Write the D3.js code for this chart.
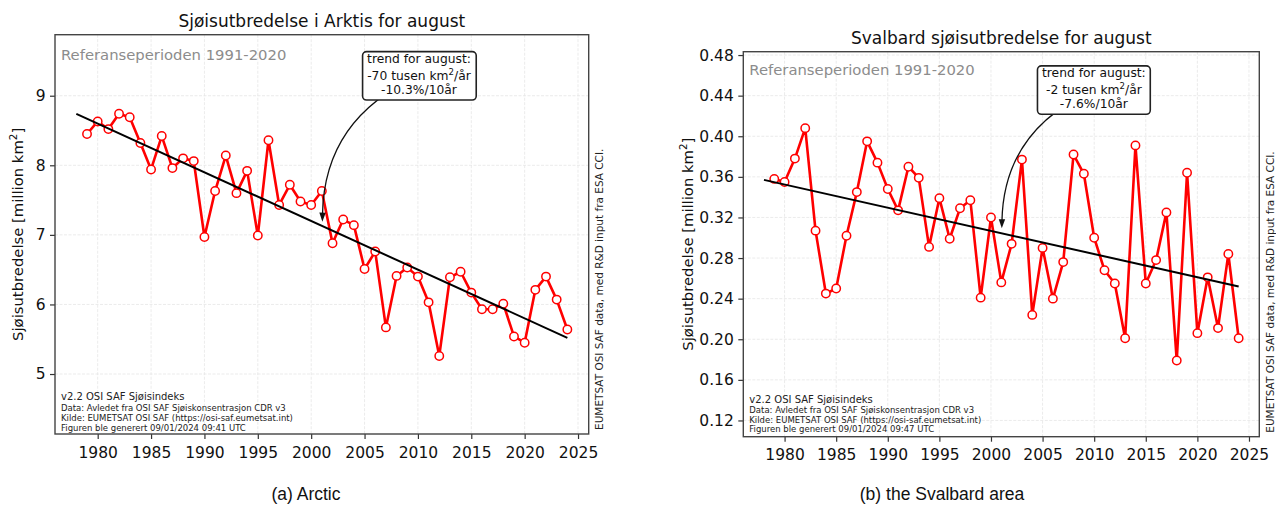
<!DOCTYPE html>
<html><head><meta charset="utf-8">
<script src="https://cdn.jsdelivr.net/npm/d3@7"></script>
<style>body{margin:0;background:#fff} svg{display:block}</style>
</head><body><svg id="c" width="1276" height="513"></svg>
<script>
// ---------- DATA ----------
const years = [1979,1980,1981,1982,1983,1984,1985,1986,1987,1988,1989,1990,1991,1992,1993,1994,1995,1996,1997,1998,1999,2000,2001,2002,2003,2004,2005,2006,2007,2008,2009,2010,2011,2012,2013,2014,2015,2016,2017,2018,2019,2020,2021,2022,2023,2024];
const arcticExtent = [8.45,8.63,8.52,8.74,8.69,8.32,7.94,8.42,7.96,8.10,8.06,6.97,7.63,8.14,7.60,7.92,6.99,8.36,7.43,7.72,7.48,7.43,7.63,6.88,7.22,7.14,6.51,6.76,5.67,6.41,6.53,6.40,6.03,5.26,6.39,6.47,6.17,5.93,5.93,6.01,5.54,5.45,6.21,6.40,6.07,5.64];
const svalbardExtent = [0.358,0.355,0.378,0.408,0.307,0.245,0.250,0.302,0.345,0.395,0.374,0.348,0.327,0.370,0.359,0.291,0.339,0.299,0.329,0.337,0.241,0.320,0.256,0.294,0.377,0.224,0.290,0.240,0.276,0.382,0.363,0.300,0.268,0.255,0.201,0.391,0.255,0.278,0.325,0.179,0.364,0.206,0.261,0.211,0.284,0.201];
const xTickValues = [1980,1985,1990,1995,2000,2005,2010,2015,2020,2025];
const arcticYTicks = [5,6,7,8,9];
const svalbardYTicks = [0.12,0.16,0.20,0.24,0.28,0.32,0.36,0.40,0.44,0.48];
const trendYears = [1978, 2024];
const arcticTrend = [8.74, 5.52];
const svalbardTrend = [0.357, 0.252];
const titles = ["Sjøisutbredelse i Arktis for august", "Svalbard sjøisutbredelse for august"];
const captions = ["(a) Arctic", "(b) the Svalbard area"];
const refText = "Referanseperioden 1991-2020";
const yLabelText = ["Sjøisutbredelse [million km", "2", "]"];
const sideText = "EUMETSAT OSI SAF data, med R&D input fra ESA CCI.";
const arcticTrendLines = [["trend for august:"], ["-70 tusen km", "2", "/år"], ["-10.3%/10år"]];
const svalbardTrendLines = [["trend for august:"], ["-2 tusen km", "2", "/år"], ["-7.6%/10år"]];
const footerArctic = ["v2.2 OSI SAF Sjøisindeks", "Data: Avledet fra OSI SAF Sjøiskonsentrasjon CDR v3", "Kilde: EUMETSAT OSI SAF (https://osi-saf.eumetsat.int)", "Figuren ble generert 09/01/2024 09:41 UTC"];
const footerSvalbard = ["v2.2 OSI SAF Sjøisindeks", "Data: Avledet fra OSI SAF Sjøiskonsentrasjon CDR v3", "Kilde: EUMETSAT OSI SAF (https://osi-saf.eumetsat.int)", "Figuren ble generert 09/01/2024 09:47 UTC"];

// ---------- DRAW ----------
const svg = d3.select("#c");
svg.append("rect").attr("width",1276).attr("height",513).attr("fill","#fff");
const FONT = "DejaVu Sans";

function richText(sel, parts, size) {
  sel.append("tspan").text(parts[0]);
  if (parts.length > 1) {
    sel.append("tspan").attr("dy", -size*0.4).attr("font-size", size*0.7).text(parts[1]);
    sel.append("tspan").attr("dy", size*0.4).text(parts[2]);
  }
}

function drawPanel(p) {
  const g = svg.append("g");
  const x = d3.scaleLinear().domain([1976, 2026]).range([p.left, p.right]);
  const y = d3.scaleLinear().domain(p.yDomain).range([p.bottom, p.top]);

  // grid
  g.append("g").selectAll("line").data(xTickValues).join("line")
    .attr("x1", d => x(d)).attr("x2", d => x(d)).attr("y1", p.top).attr("y2", p.bottom)
    .attr("stroke", "#e6e6e6").attr("stroke-width", 0.8).attr("stroke-dasharray", "3,1.5");
  g.append("g").selectAll("line").data(p.yTicks).join("line")
    .attr("y1", d => y(d)).attr("y2", d => y(d)).attr("x1", p.left).attr("x2", p.right)
    .attr("stroke", "#e6e6e6").attr("stroke-width", 0.8).attr("stroke-dasharray", "3,1.5");

  // axes
  const xa = g.append("g").attr("transform", `translate(0,${p.bottom})`)
    .call(d3.axisBottom(x).tickValues(xTickValues).tickFormat(d3.format("d")).tickSize(5).tickPadding(7.5));
  const ya = g.append("g").attr("transform", `translate(${p.left},0)`)
    .call(d3.axisLeft(y).tickValues(p.yTicks).tickFormat(p.fmt).tickSize(5).tickPadding(4.5));
  [xa, ya].forEach(a => {
    a.select(".domain").remove();
    a.attr("font-family", FONT).attr("font-size", 15.5);
    a.selectAll("line").attr("stroke", "#333").attr("stroke-width", 1.2);
    a.selectAll("text").attr("fill", "#111");
  });

  // frame
  g.append("rect").attr("x", p.left).attr("y", p.top).attr("width", p.right - p.left).attr("height", p.bottom - p.top)
    .attr("fill", "none").attr("stroke", "#444").attr("stroke-width", 1.4);

  // data line
  const line = d3.line().x(d => x(d[0])).y(d => y(d[1]));
  const pts = years.map((yr, i) => [yr, p.values[i]]);
  g.append("path").datum(pts).attr("d", line).attr("fill", "none")
    .attr("stroke", "#f00").attr("stroke-width", 2.6).attr("stroke-linejoin", "round");
  g.append("g").selectAll("circle").data(pts).join("circle")
    .attr("cx", d => x(d[0])).attr("cy", d => y(d[1])).attr("r", 4.2)
    .attr("fill", "#fff").attr("stroke", "#f00").attr("stroke-width", 1.5);

  // trend line
  const tpts = trendYears.map((yr, i) => [yr, p.trend[i]]);
  g.append("path").datum(tpts).attr("d", line).attr("fill", "none")
    .attr("stroke", "#000").attr("stroke-width", 2);

  // reference period text
  g.append("text").attr("x", p.left + 6).attr("y", p.top + p.refDy)
    .attr("font-family", FONT).attr("font-size", 14.8).attr("fill", "#8c8c8c").text(refText);

  // footer
  p.footer.forEach((t, i) => {
    g.append("text").attr("x", p.left + 6).attr("y", p.bottom + p.footerDy[i])
      .attr("font-family", FONT).attr("font-size", i === 0 ? 10 : 8.5).attr("fill", "#222").text(t);
  });

  // title
  g.append("text").attr("x", (p.left + p.right) / 2).attr("y", p.top - 8).attr("text-anchor", "middle")
    .attr("font-family", FONT).attr("font-size", 17).attr("fill", "#111").text(p.title);

  // y label
  const yl = g.append("text").attr("transform", `translate(${p.ylabelX},${(p.top + p.bottom) / 2}) rotate(-90)`)
    .attr("text-anchor", "middle").attr("font-family", FONT).attr("font-size", 14.8).attr("fill", "#111");
  richText(yl, yLabelText, 14.8);

  // side text
  g.append("text").attr("transform", `translate(${p.right + 14.5},${p.bottom - 4}) rotate(-90)`)
    .attr("font-family", FONT).attr("font-size", 10.5).attr("fill", "#222").text(sideText);

  // annotation arrow (arc3-like)
  const bx = x(p.box[0]), by = y(p.box[1]);
  const tx = x(p.tip[0]), ty = y(p.tip[1]);
  const mx = (bx + tx) / 2, my = (by + ty) / 2, dx = tx - bx, dy = ty - by, r = 0.32;
  const cx = mx - r * dy, cy = my + r * dx;
  const ax = tx - cx, ay = ty - cy, al = Math.hypot(ax, ay);
  const ux = ax / al, uy = ay / al, hl = 9, hw = 3.2;
  const baseX = tx - ux * hl, baseY = ty - uy * hl;
  const path = d3.path();
  path.moveTo(bx, by); path.quadraticCurveTo(cx, cy, baseX + ux * 2, baseY + uy * 2);
  g.append("path").attr("d", path.toString()).attr("fill", "none").attr("stroke", "#111").attr("stroke-width", 1.3);
  g.append("path").attr("d", `M${tx},${ty}L${baseX - uy * hw},${baseY + ux * hw}L${baseX + uy * hw},${baseY - ux * hw}Z`)
    .attr("fill", "#111");

  // annotation box
  const ag = g.append("g");
  const rect = ag.append("rect");
  const offs = [-12.9, 3.7, 18.3];
  const tg = ag.append("g");
  p.trendLines.forEach((parts, i) => {
    const t = tg.append("text").attr("x", bx).attr("y", by + offs[i]).attr("text-anchor", "middle")
      .attr("font-family", FONT).attr("font-size", 12.3).attr("fill", "#111");
    richText(t, parts, 12.3);
  });
  const bb = tg.node().getBBox();
  rect.attr("x", bb.x - 4.5).attr("y", by - 24.2).attr("width", bb.width + 9).attr("height", 48.4)
    .attr("rx", 4).attr("fill", "#fff").attr("stroke", "#222").attr("stroke-width", 1.6);
}

drawPanel({
  left: 55, right: 588.7, top: 34.7, bottom: 434,
  yDomain: [4.138, 9.877], yTicks: arcticYTicks, fmt: d3.format("d"),
  values: arcticExtent, trend: arcticTrend, title: titles[0],
  refDy: 25.5, footer: footerArctic, footerDy: [-34, -23.3, -13.3, -3.3],
  ylabelX: 23, box: [2010.1, 9.286], tip: [2001.05, 7.19], trendLines: arcticTrendLines
});
drawPanel({
  left: 743.3, right: 1259.3, top: 51.7, bottom: 436.7,
  yDomain: [0.104, 0.4833], yTicks: svalbardYTicks, fmt: d3.format(".2f"),
  values: svalbardExtent, trend: svalbardTrend, title: titles[1],
  refDy: 23.3, footer: footerSvalbard, footerDy: [-33.4, -23.4, -14, -4.4],
  ylabelX: 693, box: [2009.97, 0.4455], tip: [2001.05, 0.3093], trendLines: svalbardTrendLines
});

// captions
[[306, captions[0]], [942, captions[1]]].forEach(([cx, t]) => {
  svg.append("text").attr("x", cx).attr("y", 500).attr("text-anchor", "middle")
    .attr("font-family", "Liberation Sans").attr("font-size", 17.5).attr("fill", "#111").text(t);
});
</script>
</body></html>
